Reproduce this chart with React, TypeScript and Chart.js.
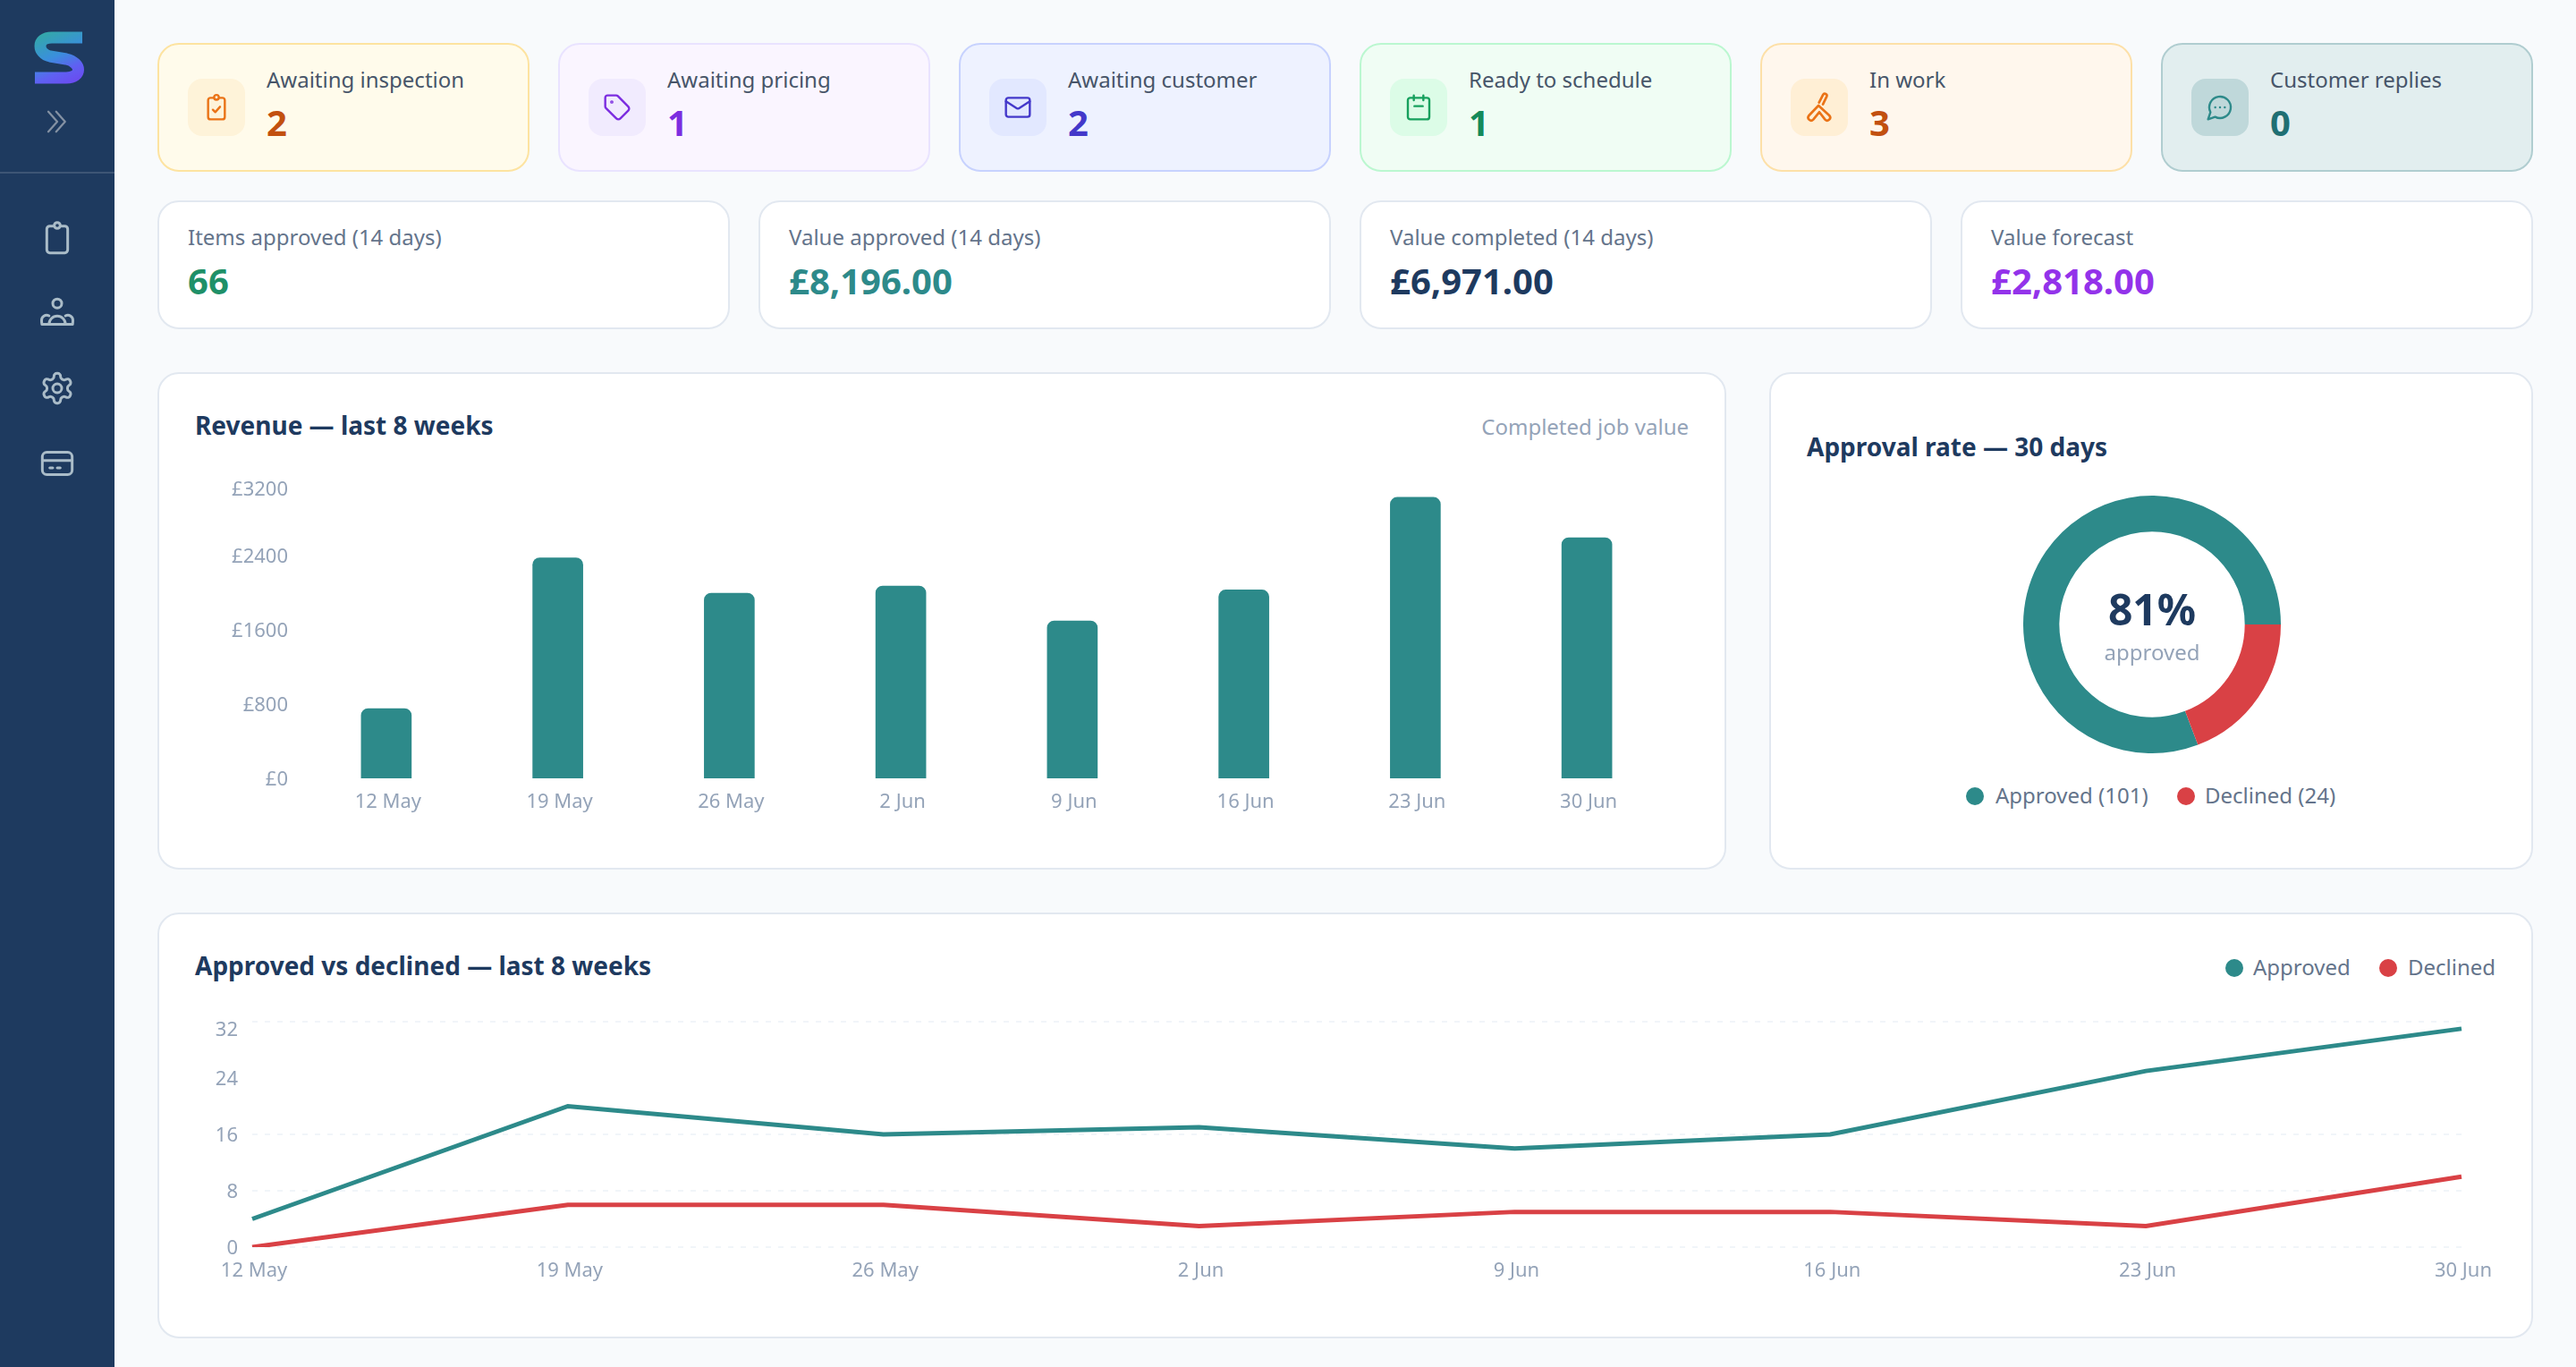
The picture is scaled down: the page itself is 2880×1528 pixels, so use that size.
import { useEffect, useRef } from "react";
import Chart from "chart.js/auto";

const FONT = "'Noto Sans', sans-serif";
const TEAL = "#2d8a8a";
const RED = "#d94145";
const NAVY = "#1e3a5f";
const MUTED = "#94a3b8";

// chart data
const weeks = ["12 May", "19 May", "26 May", "2 Jun", "9 Jun", "16 Jun", "23 Jun", "30 Jun"];
const revenue = [752, 2376, 1995, 2072, 1696, 2030, 3027, 2593];
const revenueTicks = [0, 800, 1600, 2400, 3200];
const approved = [4, 20, 16, 17, 14, 16, 25, 31];
const declined = [0, 6, 6, 3, 5, 5, 3, 10];
const countTicks = [0, 8, 16, 24, 32];
const rateLabels = ["Approved", "Declined"];
const rateCounts = [101, 24];

// summary tiles
const statusLabels = ["Awaiting inspection", "Awaiting pricing", "Awaiting customer", "Ready to schedule", "In work", "Customer replies"];
const statusCounts = [2, 1, 2, 1, 3, 0];
const metricLabels = ["Items approved (14 days)", "Value approved (14 days)", "Value completed (14 days)", "Value forecast"];
const metricValues = ["66", "£8,196.00", "£6,971.00", "£2,818.00"];

const statusThemes = [
  { bg: "#fffbeb", border: "#fde3a0", tile: "#fef3d9", icon: "#ea7317", num: "#c2500f" },
  { bg: "#faf5ff", border: "#e9e3ff", tile: "#f1ebfe", icon: "#7c2de0", num: "#7c2de0" },
  { bg: "#eef2ff", border: "#c7d2fe", tile: "#e2e8ff", icon: "#4338ca", num: "#4338ca" },
  { bg: "#f0fdf4", border: "#bbf7d0", tile: "#dcfce7", icon: "#16a05d", num: "#158a5a" },
  { bg: "#fff7ed", border: "#fde0a8", tile: "#ffefd5", icon: "#ea7317", num: "#c2500f" },
  { bg: "#e2eeef", border: "#b0cdd0", tile: "#bfd8da", icon: TEAL, num: "#1f6f73" },
];
const metricColors = ["#1f9068", TEAL, NAVY, "#9333ea"];

const ICONS: Record<string, React.ReactNode> = {
  clipboardCheck: (
    <>
      <circle cx="12" cy="3.6" r="2" />
      <path d="M9.6 4H7a2 2 0 0 0-2 2v14a2 2 0 0 0 2 2h10a2 2 0 0 0 2-2V6a2 2 0 0 0-2-2h-2.6" />
      <path d="m9 14 2 2 4-4.5" />
    </>
  ),
  clipboard: (
    <>
      <circle cx="12" cy="3.6" r="2" />
      <path d="M9.6 4H7a2 2 0 0 0-2 2v14a2 2 0 0 0 2 2h10a2 2 0 0 0 2-2V6a2 2 0 0 0-2-2h-2.6" />
    </>
  ),
  tag: (
    <>
      <path d="M12.586 2.586A2 2 0 0 0 11.172 2H4a2 2 0 0 0-2 2v7.172a2 2 0 0 0 .586 1.414l8.704 8.704a2.426 2.426 0 0 0 3.42 0l6.58-6.58a2.426 2.426 0 0 0 0-3.42z" />
      <circle cx="7.5" cy="7.5" r=".5" />
    </>
  ),
  mail: (
    <>
      <rect x="2" y="4" width="20" height="16" rx="2" />
      <path d="m22 7-8.97 5.7a1.94 1.94 0 0 1-2.06 0L2 7" />
    </>
  ),
  calendar: (
    <>
      <rect x="3" y="4" width="18" height="18" rx="2" />
      <path d="M16 2v4M8 2v4M8.5 11h7" />
    </>
  ),
  tools: (
    <>
      <path d="m11.8 8.4 3-5.8a1.5 1.5 0 0 1 2.7 1.3l-2.8 5.8" />
      <path d="M11.4 10.6 4.2 18.2a2.2 2.2 0 0 0 3.3 2.9l4.5-5.6 4.3 5.6a2.2 2.2 0 0 0 3.3-2.9z" />
    </>
  ),
  message: (
    <>
      <path d="M7.9 20A9 9 0 1 0 4 16.1L2 22Z" />
      <path d="M8 12h.01M12 12h.01M16 12h.01" />
    </>
  ),
  users: (
    <>
      <circle cx="12" cy="5.5" r="3" />
      <path d="M6.5 19.5a5.5 5.5 0 0 1 11 0z" />
      <path d="M6.5 13.8a3.4 3.4 0 0 0-5 3.2c0 1 .2 2.5.2 2.5h4.8M17.5 13.8a3.4 3.4 0 0 1 5 3.2c0 1-.2 2.5-.2 2.5h-4.8" />
    </>
  ),
  gear: (
    <>
      <path d="M12.22 2h-.44a2 2 0 0 0-2 2v.18a2 2 0 0 1-1 1.73l-.43.25a2 2 0 0 1-2 0l-.15-.08a2 2 0 0 0-2.73.73l-.22.38a2 2 0 0 0 .73 2.73l.15.1a2 2 0 0 1 1 1.72v.51a2 2 0 0 1-1 1.74l-.15.09a2 2 0 0 0-.73 2.73l.22.38a2 2 0 0 0 2.73.73l.15-.08a2 2 0 0 1 2 0l.43.25a2 2 0 0 1 1 1.73V20a2 2 0 0 0 2 2h.44a2 2 0 0 0 2-2v-.18a2 2 0 0 1 1-1.73l.43-.25a2 2 0 0 1 2 0l.15.08a2 2 0 0 0 2.73-.73l.22-.39a2 2 0 0 0-.73-2.73l-.15-.08a2 2 0 0 1-1-1.74v-.5a2 2 0 0 1 1-1.74l.15-.09a2 2 0 0 0 .73-2.73l-.22-.38a2 2 0 0 0-2.73-.73l-.15.08a2 2 0 0 1-2 0l-.43-.25a2 2 0 0 1-1-1.73V4a2 2 0 0 0-2-2z" />
      <circle cx="12" cy="12" r="3" />
    </>
  ),
  card: (
    <>
      <rect x="2" y="4.5" width="20" height="15" rx="3" />
      <path d="M2 10h20M7 15h2M12 15h2" />
    </>
  ),
  chevrons: <path d="M4 3l8 9-8 9M11 3l8 9-8 9" />,
};

const statusIcons = ["clipboardCheck", "tag", "mail", "calendar", "tools", "message"];
const navIcons = ["clipboard", "users", "gear", "card"];

function Icon({ name, cx, cy, size, color, sw = 2 }: { name: string; cx: number; cy: number; size: number; color: string; sw?: number }) {
  return (
    <svg
      viewBox="0 0 24 24"
      width={size}
      height={size}
      fill="none"
      stroke={color}
      strokeWidth={sw}
      strokeLinecap="round"
      strokeLinejoin="round"
      style={{ position: "absolute", left: cx - size / 2, top: cy - size / 2 }}
    >
      {ICONS[name]}
    </svg>
  );
}

// one line of text, placed by its vertical centre
function Label(props: { x: number; cy: number; size: number; color: string; weight?: number; right?: boolean; center?: boolean; children: React.ReactNode }) {
  const { x, cy, size, color, weight = 400, right, center, children } = props;
  const lh = size * 1.4;
  const style: React.CSSProperties = {
    position: "absolute",
    top: cy - lh / 2,
    lineHeight: `${lh}px`,
    fontSize: size,
    fontWeight: weight,
    color,
    whiteSpace: "nowrap",
  };
  if (right) style.right = 2880 - x;
  else if (center) {
    style.left = x;
    style.transform = "translateX(-50%)";
  } else style.left = x;
  return <div style={style}>{children}</div>;
}

function Box(props: { x: number; y: number; w: number; h: number; bg?: string; border?: string; radius?: number }) {
  const { x, y, w, h, bg = "#fff", border = "#e2e8f0", radius = 24 } = props;
  return (
    <div
      style={{
        position: "absolute",
        left: x,
        top: y,
        width: w,
        height: h,
        boxSizing: "border-box",
        background: bg,
        border: `2px solid ${border}`,
        borderRadius: radius,
      }}
    />
  );
}

function Dot({ cx, cy, color }: { cx: number; cy: number; color: string }) {
  return <div style={{ position: "absolute", left: cx - 10, top: cy - 10, width: 20, height: 20, borderRadius: "50%", background: color }} />;
}

function ChartCanvas({ x, y, w, h, build }: { x: number; y: number; w: number; h: number; build: () => any }) {
  const canvasRef = useRef<HTMLCanvasElement | null>(null);
  useEffect(() => {
    if (!canvasRef.current) return;
    const chart = new Chart(canvasRef.current, build());
    return () => chart.destroy();
  }, []);
  return <canvas ref={canvasRef} width={w} height={h} style={{ position: "absolute", left: x, top: y, width: w, height: h }} />;
}

// the top tick label sits a little below its value in the reference, an empty first line pushes it down
const pushTop = (text: string, value: number, top: number) => (value === top ? ["", text] : text);
const tickFont = { size: 22, family: FONT, lineHeight: "16px" };

// fixed axis width, and no extra room for the tick labels so the plot box stays where it is put
const fitY = (width: number) => (s: any) => {
  s.width = width;
  s.paddingTop = 0;
  s.paddingBottom = 0;
};

const barConfig = () => ({
  type: "bar",
  data: {
    labels: weeks,
    datasets: [{ label: "Revenue", data: revenue, backgroundColor: TEAL, barThickness: 56, borderRadius: { topLeft: 8, topRight: 8 }, borderSkipped: "bottom" }],
  },
  options: {
    responsive: false,
    animation: false,
    layout: { padding: { top: 18, right: 50, left: 0, bottom: 0 } },
    plugins: { legend: { display: false }, tooltip: { enabled: false } },
    scales: {
      x: {
        afterFit: (s: any) => { s.height = 70; },
        border: { display: false },
        grid: { display: false, drawTicks: false },
        ticks: { color: MUTED, font: { size: 22, family: FONT }, padding: 14, labelOffset: 2, maxRotation: 0 },
      },
      y: {
        min: revenueTicks[0],
        max: revenueTicks[revenueTicks.length - 1],
        afterFit: fitY(156),
        border: { display: false },
        grid: { display: false, drawTicks: false },
        ticks: {
          stepSize: 800,
          color: MUTED,
          font: tickFont,
          padding: 14,
          labelOffset: 2,
          callback: (v: number) => pushTop(`£${v}`, v, 3200),
        },
      },
    },
  },
});

const lineConfig = () => ({
  type: "line",
  data: {
    labels: weeks,
    datasets: [
      { label: "Approved", data: approved, borderColor: TEAL, borderWidth: 5, pointRadius: 0, tension: 0, fill: false },
      { label: "Declined", data: declined, borderColor: RED, borderWidth: 5, pointRadius: 0, tension: 0, fill: false },
    ],
  },
  options: {
    responsive: false,
    animation: false,
    layout: { padding: { top: 22, right: 68, left: 0, bottom: 0 } },
    plugins: { legend: { display: false }, tooltip: { enabled: false } },
    scales: {
      x: {
        afterFit: (s: any) => { s.height = 66; },
        border: { display: false },
        grid: { display: false, drawTicks: false },
        ticks: { color: MUTED, font: { size: 22, family: FONT }, padding: 14, labelOffset: 2, maxRotation: 0, autoSkip: false },
      },
      y: {
        min: countTicks[0],
        max: countTicks[countTicks.length - 1],
        afterFit: fitY(102),
        border: { display: false, dash: [6, 8] },
        // no rule at 24 in the reference
        grid: { drawTicks: false, lineWidth: 2, color: (c: any) => (c.tick.value === 24 ? "transparent" : "#f1f5f9") },
        ticks: {
          stepSize: 8,
          color: MUTED,
          font: tickFont,
          padding: 16,
          labelOffset: 2,
          callback: (v: number) => pushTop(`${v}`, v, 32),
        },
      },
    },
  },
});

const donutConfig = () => ({
  type: "doughnut",
  data: {
    labels: rateLabels,
    datasets: [{ data: rateCounts, backgroundColor: [TEAL, RED], borderWidth: 0 }],
  },
  options: {
    responsive: false,
    animation: false,
    cutout: "72%",
    // declined starts at 3 o'clock, approved follows round to it
    rotation: 90 + (360 * rateCounts[1]) / (rateCounts[0] + rateCounts[1]),
    layout: { padding: 0 },
    plugins: { legend: { display: false }, tooltip: { enabled: false } },
  },
});

export default function App() {
  return (
    <div style={{ position: "relative", width: 2880, height: 1528, overflow: "hidden", background: "#f8fafc", fontFamily: FONT }}>
      <style>{`body{margin:0}`}</style>

      {/* sidebar */}
      <div style={{ position: "absolute", left: 0, top: 0, width: 128, height: 1528, background: NAVY }} />
      <svg width={128} height={120} style={{ position: "absolute", left: 0, top: 0 }} fill="none">
        <defs>
          <linearGradient id="logo" gradientUnits="userSpaceOnUse" x1="52" y1="35" x2="78" y2="94">
            <stop offset="0" stopColor="#33a8a8" />
            <stop offset="0.45" stopColor="#3a8fdc" />
            <stop offset="0.75" stopColor="#5f60f2" />
            <stop offset="1" stopColor="#6a4cf0" />
          </linearGradient>
        </defs>
        <path d="M92 42H58C40 42 42 60 56 63L74 66C92 70 92 87 74 87H39" stroke="url(#logo)" strokeWidth={13} />
      </svg>
      <Icon name="chevrons" cx={64} cy={136} size={30} color="#8491a3" sw={1.8} />
      <div style={{ position: "absolute", left: 0, top: 192, width: 128, height: 2, background: "rgba(255,255,255,0.14)" }} />
      {navIcons.map((name, i) => (
        <Icon key={name} name={name} cx={64} cy={266 + i * 84} size={40} color="#aabcc8" sw={1.8} />
      ))}

      {/* status row */}
      {statusLabels.map((label, i) => {
        const x = 176 + i * 448;
        const t = statusThemes[i];
        return (
          <div key={label}>
            <Box x={x} y={48} w={416} h={144} bg={t.bg} border={t.border} />
            <Box x={x + 34} y={88} w={64} h={64} bg={t.tile} border={t.tile} radius={16} />
            <Icon name={statusIcons[i]} cx={x + 66} cy={120} size={statusIcons[i] === "tools" ? 36 : 32} color={t.icon} sw={1.8} />
            <Label x={x + 122} cy={89} size={24} color="#475569">{label}</Label>
            <Label x={x + 122} cy={137} size={40} weight={700} color={t.num}>{statusCounts[i]}</Label>
          </div>
        );
      })}

      {/* metric row */}
      {metricLabels.map((label, i) => {
        const x = 176 + i * 672;
        return (
          <div key={label}>
            <Box x={x} y={224} w={640} h={144} />
            <Label x={x + 34} cy={265} size={24} color="#64748b">{label}</Label>
            <Label x={x + 34} cy={314} size={40} weight={700} color={metricColors[i]}>{metricValues[i]}</Label>
          </div>
        );
      })}

      {/* revenue */}
      <Box x={176} y={416} w={1754} h={556} />
      <Label x={218} cy={476} size={28} weight={700} color={NAVY}>Revenue — last 8 weeks</Label>
      <Label x={1888} cy={477} size={24} color={MUTED} right>Completed job value</Label>
      <ChartCanvas x={180} y={520} w={1740} h={420} build={barConfig} />

      {/* approval rate */}
      <Box x={1978} y={416} w={854} h={556} />
      <Label x={2020} cy={500} size={28} weight={700} color={NAVY}>Approval rate — 30 days</Label>
      <ChartCanvas x={2262} y={554} w={288} h={288} build={donutConfig} />
      <Label x={2406} cy={681} size={48} weight={700} color={NAVY} center>81%</Label>
      <Label x={2406} cy={729} size={24} color={MUTED} center>approved</Label>
      <Dot cx={2208} cy={890} color={TEAL} />
      <Label x={2231} cy={889} size={24} color="#64748b">{`${rateLabels[0]} (${rateCounts[0]})`}</Label>
      <Dot cx={2444} cy={890} color={RED} />
      <Label x={2465} cy={889} size={24} color="#64748b">{`${rateLabels[1]} (${rateCounts[1]})`}</Label>

      {/* approved vs declined */}
      <Box x={176} y={1020} w={2656} h={476} />
      <Label x={218} cy={1080} size={28} weight={700} color={NAVY}>Approved vs declined — last 8 weeks</Label>
      <Dot cx={2498} cy={1082} color={TEAL} />
      <Label x={2519} cy={1081} size={24} color="#64748b">{rateLabels[0]}</Label>
      <Dot cx={2670} cy={1082} color={RED} />
      <Label x={2692} cy={1081} size={24} color="#64748b">{rateLabels[1]}</Label>
      <ChartCanvas x={180} y={1120} w={2640} h={340} build={lineConfig} />
    </div>
  );
}
